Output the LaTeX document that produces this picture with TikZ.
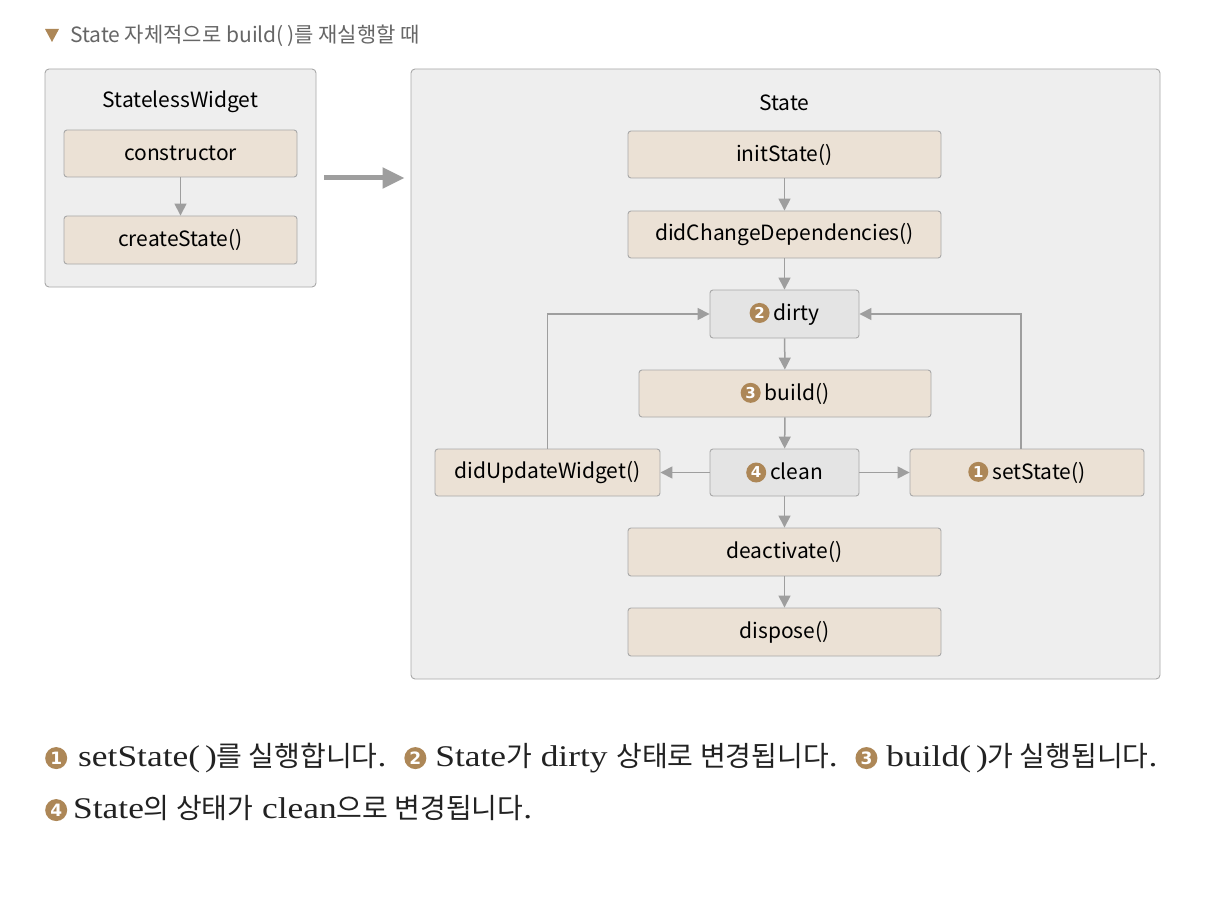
\documentclass[tikz,border=0pt]{standalone}
\usepackage{fontspec}
\setmainfont{Noto Sans CJK KR}
\newfontfamily\krfont{Noto Sans CJK KR}
\newfontfamily\serfont[FakeStretch=1.18]{Liberation Serif}
\newfontfamily\digfont{DejaVu Sans}
\usetikzlibrary{arrows.meta}
\definecolor{boxgray}{HTML}{EEEEEE}
\definecolor{beige}{HTML}{EBE1D5}
\definecolor{stategray}{HTML}{E4E4E4}
\definecolor{bordergray}{HTML}{A8A8A8}
\definecolor{arrowgray}{HTML}{9E9E9E}
\definecolor{badgec}{HTML}{AD8757}
\definecolor{titlegray}{HTML}{666666}
\definecolor{textdark}{HTML}{222222}
\newcommand\bdg[4][20]{\tikz[baseline={([yshift=-0.36*#1pt]#3.center)}]\node[circle,fill=badgec,text=white,inner sep=0pt,minimum size=#1pt,font=\digfont\bfseries\fontsize{#4}{#4}\selectfont](#3){#2};}
\newcommand\K[1]{{\krfont\fontsize{28}{32}\selectfont #1}}
\begin{document}
\begin{tikzpicture}[x=1pt,y=-1pt,
  outer/.style={draw=bordergray,fill=boxgray,rounded corners=4pt,line width=0.9pt},
  lbl/.style={font=\fontsize{21}{21}\selectfont,text=black},
  beigebox/.style={draw=bordergray,fill=beige,rounded corners=3pt,line width=0.9pt,minimum height=47pt,font=\fontsize{21}{21}\selectfont,inner sep=0pt},
  graybox/.style={beigebox,fill=stategray},
  arr/.style={draw=arrowgray,line width=1.5pt,-{Triangle[width=12pt,length=12pt]}},
  bigarr/.style={draw=arrowgray,line width=5pt,-{Triangle[width=20pt,length=22pt]}},
  foot/.style={anchor=base west,inner sep=0pt,text=textdark,font=\serfont\fontsize{30}{34}\selectfont}]
\useasboundingbox[fill=white] (0,0) rectangle (1217,901);
% title
\fill[badgec] (45,29) -- (59,29) -- (52,42) -- cycle;
\node[anchor=west,inner sep=0pt,text=titlegray,font=\fontsize{21}{21}\selectfont] (title) at (70,36) {State 자체적으로 build(\,)를 재실행할 때};
% containers
\node[outer,minimum width=271pt,minimum height=218pt] (lbox) at (180.5,178) {};
\node[outer,minimum width=749pt,minimum height=610pt] (sbox) at (785.5,374) {};
\node[lbl] (lt) at (180.5,102) {StatelessWidget};
\node[lbl] (st) at (784.5,103) {State};
% left boxes
\node[beigebox,minimum width=233pt] (cons) at (180.5,153.5) {constructor};
\node[beigebox,minimum width=233pt,minimum height=48pt] (cs) at (180.5,240) {createState()};
% state boxes
\node[beigebox,minimum width=313pt] (init) at (784.5,154.5) {initState()};
\node[beigebox,minimum width=313pt] (dcd) at (784.5,234.5) {didChangeDependencies()};
\node[graybox,minimum width=149pt,minimum height=48pt] (dirty) at (784.5,314) {\bdg{2}{b2}{15}\kern4pt dirty};
\node[beigebox,minimum width=292pt] (build) at (785,393.5) {\bdg{3}{b3}{15}\kern4pt build()};
\node[beigebox,minimum width=225pt] (dup) at (547.5,472.5) {didUpdateWidget()};
\node[graybox,minimum width=149pt] (clean) at (784.5,472.5) {\bdg{4}{b4}{15}\kern4pt clean};
\node[beigebox,minimum width=234pt] (set) at (1027,472.5) {\bdg{1}{b1}{15}\kern4pt setState()};
\node[beigebox,minimum width=313pt,minimum height=48pt] (deact) at (784.5,552) {deactivate()};
\node[beigebox,minimum width=313pt,minimum height=48pt] (disp) at (784.5,632) {dispose()};
% connectors
\draw[arr] (cons) -- (cs);
\draw[bigarr] ([xshift=8pt]lbox.east) -- ([xshift=-6pt]lbox.east -| sbox.west);
\draw[arr] (init) -- (dcd);
\draw[arr] (dcd) -- (dirty);
\draw[arr] (dirty) -- (build);
\draw[arr] (build) -- (clean);
\draw[arr] (clean) -- (dup);
\draw[arr] (clean) -- (set);
\draw[arr] (clean) -- (deact);
\draw[arr] (deact) -- (disp);
\draw[arr] (dup.north) |- (dirty.west);
\draw[arr] ([xshift=-6pt]set.north) |- (dirty.east);
% footnote
\node[foot] (f1) at (45,766) {\bdg[22]{1}{c1}{17}\kern11pt setState(\kern5pt)\K{를 실행합니다}.\kern6pt{} \bdg[22]{2}{c2}{17}\kern9pt State\K{가} dirty \K{상태로 변경됩니다}.\kern6pt{} \bdg[22]{3}{c3}{17}\kern9pt build(\kern5pt)\K{가 실행됩니다}.};
\node[foot] (f2) at (45,818) {\bdg[22]{4}{c4}{17}\kern6pt State\K{의 상태가} clean\K{으로 변경됩니다}.};
\end{tikzpicture}
\end{document}
